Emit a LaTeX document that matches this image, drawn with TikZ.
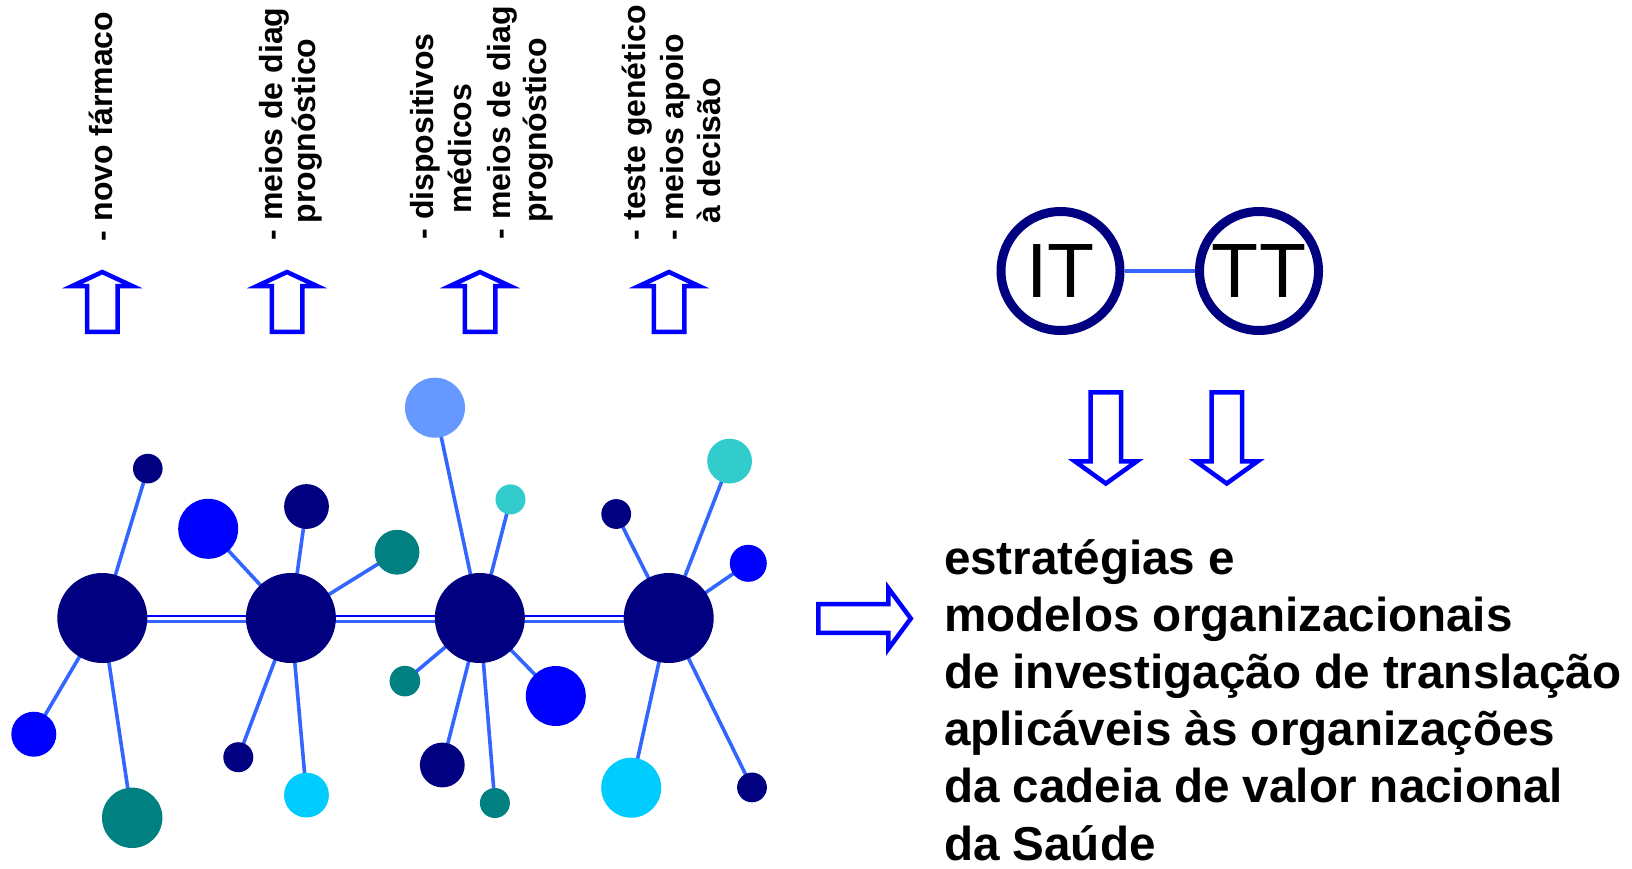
\documentclass[tikz,border=0pt]{standalone}
\usepackage{fontspec}
\setmainfont{Liberation Sans}
\usetikzlibrary{backgrounds}
\definecolor{navyc}{HTML}{000080}
\definecolor{bluec}{HTML}{0000FF}
\definecolor{tealc}{HTML}{008080}
\definecolor{lbluec}{HTML}{6699FF}
\definecolor{turqc}{HTML}{33CCCC}
\definecolor{cyanc}{HTML}{00CCFF}
\definecolor{linec}{HTML}{3366FF}
\begin{document}
\begin{tikzpicture}[x=0.5pt,y=-0.5pt,
  rot/.style={rotate=90,anchor=base west,inner sep=0pt,outer sep=0pt,font=\fontsize{16}{18}\selectfont\bfseries},
  mainline/.style={anchor=base west,inner sep=0pt,outer sep=0pt,font=\fontsize{23.8}{28}\selectfont\bfseries},
  blockarrow/.style={draw=bluec,line width=2.25pt,line join=miter,fill=white},
  ball/.style={circle,inner sep=0pt,outer sep=0pt,draw=none,minimum size=#1},
  hub/.style={ball=45pt,fill=navyc},
  link/.style={draw=linec,line width=1.8pt},
  ring/.style={circle,draw=navyc,line width=4.5pt,minimum size=59.5pt,inner sep=0pt,font=\fontsize{38.5}{40}\selectfont}
]
\useasboundingbox (0,0) rectangle (1632,868);

% rotated labels
\node[rot] (c1a) at (112,241) {- novo fármaco};
\node[rot] (c2a) at (282,240.5) {- meios de diag};
\node[rot] (c2b) at (315,223.5) {prognóstico};
\node[rot] (c3a) at (433.3,239.5) {- dispositivos};
\node[rot] (c3b) at (471,213.6) {médicos};
\node[rot] (c3c) at (510,239) {- meios de diag};
\node[rot] (c3d) at (546.7,222.7) {prognóstico};
\node[rot] (c4a) at (645,240) {- teste genético};
\node[rot] (c4b) at (683.3,240) {- meios apoio};
\node[rot] (c4c) at (720.7,223.7) {à decisão};

% up arrows
\foreach \cx in {102.3,287,480,669}{
  \draw[blockarrow] (\cx,272) -- (\cx+30,286) -- (\cx+15.25,286) -- (\cx+15.25,331.75)
    -- (\cx-15.25,331.75) -- (\cx-15.25,286) -- (\cx-30,286) -- cycle;
}

% down arrows
\foreach \cx in {1105.8,1226.8}{
  \draw[blockarrow] (\cx-15.25,392.25) -- (\cx+15.25,392.25) -- (\cx+15.25,461.25)
    -- (\cx+31,461.25) -- (\cx,483.5) -- (\cx-31,461.25) -- (\cx-15.25,461.25) -- cycle;
}

% right arrow
\draw[blockarrow] (818.25,604) -- (888.25,604) -- (888.25,588) -- (910.8,618.5)
  -- (888.25,649) -- (888.25,632.9) -- (818.25,632.9) -- cycle;

% IT / TT
\node[ring] (IT) at (1060.5,271) {IT};
\node[ring] (TT) at (1259,271) {TT};
\draw[link] (IT) -- (TT);

% main text
\node[mainline] (m1) at (944,574) {estratégias e};
\node[mainline] (m2) at (944,631.2) {modelos organizacionais};
\node[mainline] (m3) at (944,688.4) {de investigação de translação};
\node[mainline] (m4) at (944,745.6) {aplicáveis às organizações};
\node[mainline] (m5) at (944,802.8) {da cadeia de valor nacional};
\node[mainline] (m6) at (944,860) {da Saúde};

% network
\node[hub] (H1) at (102.3,618) {};
\node[hub] (H2) at (290.9,618) {};
\node[hub] (H3) at (479.8,618) {};
\node[hub] (H4) at (668.7,618) {};

\node[ball=14.8pt,fill=navyc] (S1) at (147.8,468.6) {};
\node[ball=30pt,fill=bluec] (S2) at (208.2,528.8) {};
\node[ball=22.4pt,fill=navyc] (S3) at (306.5,506.5) {};
\node[ball=22.4pt,fill=tealc] (S4) at (397,552.2) {};
\node[ball=30pt,fill=lbluec] (S5) at (435,407.7) {};
\node[ball=15pt,fill=turqc] (S6) at (510.5,499.4) {};
\node[ball=14.9pt,fill=navyc] (S7) at (616.2,514) {};
\node[ball=22.4pt,fill=turqc] (S8) at (729.6,461.1) {};
\node[ball=18.5pt,fill=bluec] (S9) at (748.3,563.3) {};
\node[ball=22.5pt,fill=bluec] (S10) at (33.8,734.2) {};
\node[ball=30.2pt,fill=tealc] (S11) at (132.2,817.8) {};
\node[ball=15pt,fill=navyc] (S12) at (238.3,757.2) {};
\node[ball=22.4pt,fill=cyanc] (S13) at (306.5,795.1) {};
\node[ball=15.3pt,fill=tealc] (S14) at (404.9,681.1) {};
\node[ball=30pt,fill=bluec] (S15) at (555.8,696) {};
\node[ball=22.4pt,fill=navyc] (S16) at (442.3,765) {};
\node[ball=15pt,fill=tealc] (S17) at (494.9,803) {};
\node[ball=30pt,fill=cyanc] (S18) at (631.2,787.7) {};
\node[ball=14.9pt,fill=navyc] (S19) at (752,787.4) {};

\begin{pgfonlayer}{background}
  \draw[bluec,line width=1pt] ([yshift=1pt]H1.center) -- ([yshift=1pt]H2.center) -- ([yshift=1pt]H3.center) -- ([yshift=1pt]H4.center);
  \draw[linec,line width=1.25pt] ([yshift=-1.75pt]H1.center) -- ([yshift=-1.75pt]H2.center) -- ([yshift=-1.75pt]H3.center) -- ([yshift=-1.75pt]H4.center);
  \draw[link] (H1.center) -- (S1.center);
  \draw[link] (H1.center) -- (S10.center);
  \draw[link] (H1.center) -- (S11.center);
  \draw[link] (H2.center) -- (S2.center);
  \draw[link] (H2.center) -- (S3.center);
  \draw[link] (H2.center) -- (S4.center);
  \draw[link] (H2.center) -- (S12.center);
  \draw[link] (H2.center) -- (S13.center);
  \draw[link] (H3.center) -- (S5.center);
  \draw[link] (H3.center) -- (S6.center);
  \draw[link] (H3.center) -- (S14.center);
  \draw[link] (H3.center) -- (S15.center);
  \draw[link] (H3.center) -- (S16.center);
  \draw[link] (H3.center) -- (S17.center);
  \draw[link] (H4.center) -- (S7.center);
  \draw[link] (H4.center) -- (S8.center);
  \draw[link] (H4.center) -- (S9.center);
  \draw[link] (H4.center) -- (S18.center);
  \draw[link] (H4.center) -- (S19.center);
\end{pgfonlayer}
\end{tikzpicture}
\end{document}
